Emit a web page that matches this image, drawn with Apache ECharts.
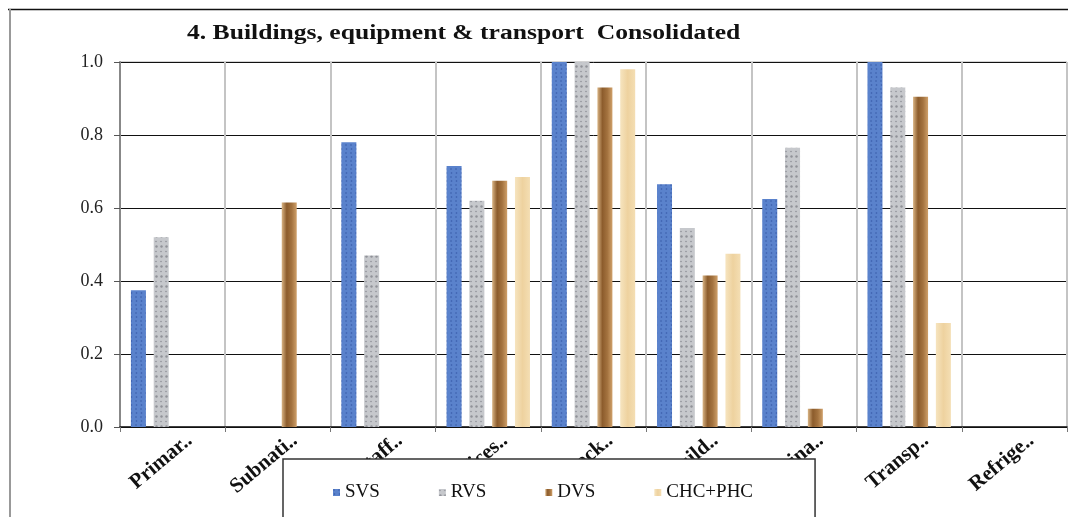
<!DOCTYPE html>
<html>
<head>
<meta charset="utf-8">
<script src="https://cdn.jsdelivr.net/npm/echarts@6/dist/echarts.min.js"></script>
<style>
  html, body { margin: 0; padding: 0; background: #fff; }
  #chart { width: 1068px; height: 517px; }
</style>
</head>
<body>
<div id="chart"></div>
<script>
const categories = ["Primar..", "Subnati..", "Staff..", "Offices..", "Stock..", "Build..", "Vaccina..", "Transp..", "Refrige.."];
const svs = [0.375, 0, 0.78, 0.715, 1.0, 0.665, 0.625, 1.0, 0];
const rvs = [0.52, 0, 0.47, 0.62, 1.0, 0.545, 0.765, 0.93, 0];
const dvs = [0, 0.615, 0, 0.675, 0.93, 0.415, 0.05, 0.905, 0];
const chc = [0, 0, 0, 0.685, 0.98, 0.475, 0, 0.285, 0];
const yTicks = [0, 0.2, 0.4, 0.6, 0.8, 1.0];

const serif = "'Liberation Serif', 'DejaVu Serif', serif";
const myChart = echarts.init(document.getElementById("chart"));

function hGrad(stops) {
  return new echarts.graphic.LinearGradient(0, 0, 1, 0,
    stops.map((c, i) => ({ offset: i / (stops.length - 1), color: c })));
}

const option = {
  animation: false,
  backgroundColor: "#fff",
  graphic: [
    { type: "line", shape: { x1: 8, y1: 9.5, x2: 1068, y2: 9.5 }, style: { stroke: "#111", lineWidth: 1.5 } },
    { type: "line", shape: { x1: 10, y1: 9, x2: 10, y2: 517 }, style: { stroke: "#999", lineWidth: 2 } },
    {
      type: "text",
      x: 187,
      y: 34,
      scaleX: 1.28,
      style: {
        text: "4. Buildings, equipment & transport  Consolidated",
        font: "bold 20px " + serif,
        fill: "#111",
        align: "left",
        verticalAlign: "middle",
      },
    },
  ],
  grid: {
    left: 120,
    top: 62,
    right: 1,
    bottom: 90,
    show: true,
    borderColor: "#a8a8a8",
    borderWidth: 1,
  },
  legend: {
    left: 283,
    top: 459,
    padding: [24, 62, 40, 50],
    itemGap: 59,
    itemWidth: 7,
    itemHeight: 7,
    icon: "rect",
    backgroundColor: "#fff",
    borderColor: "#333",
    borderWidth: 1.5,
    textStyle: { fontFamily: serif, fontSize: 19, color: "#111" },
    data: ["SVS", "RVS", "DVS", "CHC+PHC"],
  },
  xAxis: {
    type: "category",
    data: categories,
    axisLine: { lineStyle: { color: "#111", width: 1.5 } },
    axisTick: { show: true, length: 5, lineStyle: { color: "#777" } },
    splitLine: { show: true, lineStyle: { color: "#c4c4c4", width: 2 } },
    axisLabel: {
      interval: 0,
      rotate: 40,
      margin: 25,
      padding: [0, -22, 0, 0],
      fontFamily: serif,
      fontWeight: "bold",
      fontSize: 21,
      color: "#111",
    },
  },
  yAxis: {
    type: "value",
    min: 0,
    max: 1,
    interval: 0.2,
    axisLine: { show: true, lineStyle: { color: "#888", width: 2 } },
    axisTick: { show: true, length: 6, lineStyle: { color: "#555" } },
    splitLine: { show: true, lineStyle: { color: "#111", width: 1 } },
    axisLabel: {
      margin: 17,
      fontFamily: serif,
      fontSize: 18,
      color: "#222",
      formatter: (v) => (yTicks.includes(+v.toFixed(1)) ? v.toFixed(1) : ""),
    },
  },
  series: [
    {
      name: "SVS",
      type: "bar",
      data: svs,
      barWidth: 15,
      barGap: "52%",
      itemStyle: {
        color: "#5a82cc",
        decal: { symbol: "circle", symbolSize: 0.8, color: "rgba(30,60,140,0.55)", dashArrayX: [[3, 2], [2, 3]], dashArrayY: [2, 2] },
      },
    },
    {
      name: "RVS",
      type: "bar",
      data: rvs,
      barWidth: 15,
      barGap: "52%",
      itemStyle: {
        color: "#c6c8cc",
        decal: { symbol: "circle", symbolSize: 0.8, color: "rgba(90,90,100,0.5)", dashArrayX: [[3, 2], [2, 3]], dashArrayY: [3, 2] },
      },
    },
    {
      name: "DVS",
      type: "bar",
      data: dvs,
      barWidth: 15,
      barGap: "52%",
      itemStyle: { color: hGrad(["#d9b484", "#8c5c2c", "#a4733f", "#cfa06a"]) },
    },
    {
      name: "CHC+PHC",
      type: "bar",
      data: chc,
      barWidth: 15,
      barGap: "52%",
      itemStyle: { color: hGrad(["#f6e4bf", "#eed29f", "#f4deb3"]) },
    },
  ],
};

option && myChart.setOption(option);
</script>
</body>
</html>
